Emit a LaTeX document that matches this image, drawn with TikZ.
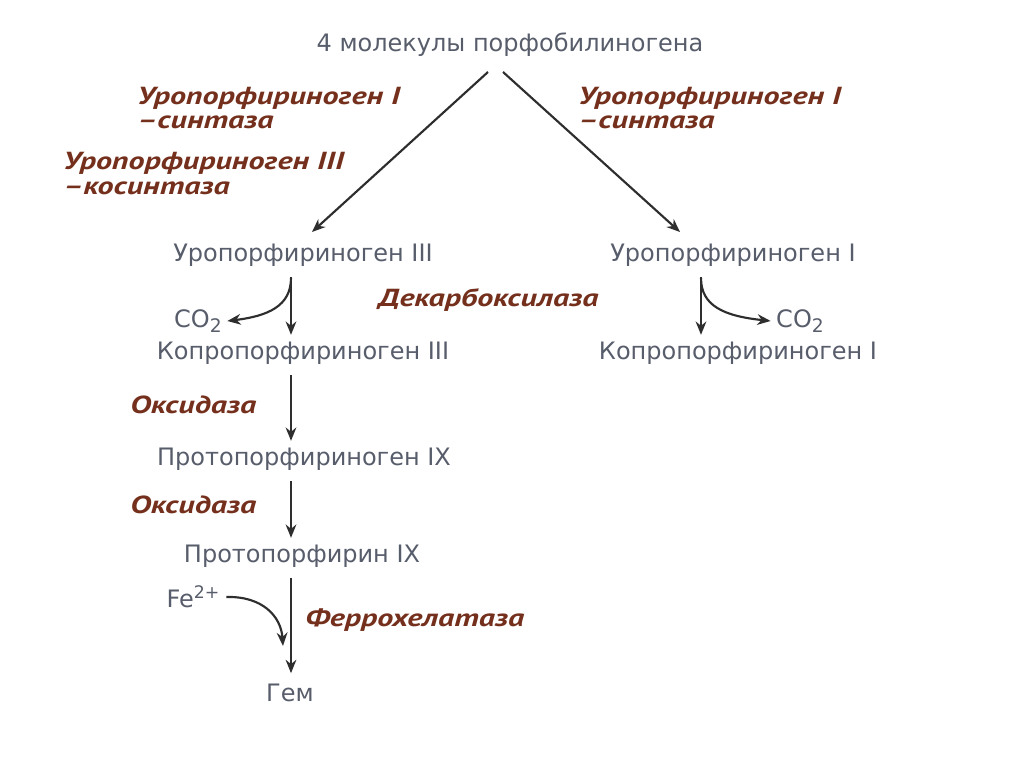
\documentclass[tikz,border=0pt]{standalone}
\usepackage{fontspec}
\setmainfont{DejaVu Sans}
\newfontfamily\enzfont[FakeStretch=1.3]{PT Sans}
\usetikzlibrary{arrows.meta}
\definecolor{txtgray}{HTML}{585D6B}
\definecolor{enzbrown}{HTML}{74301C}
\definecolor{arrgray}{HTML}{2E2E2E}
\tikzset{
  metab/.style={text=txtgray, font=\fontsize{18}{20}\selectfont, inner sep=0pt},
  enz/.style={text=enzbrown, font=\enzfont\bfseries\itshape\fontsize{18.5}{20}\selectfont, inner sep=0pt, anchor=west},
  arr/.style={draw=arrgray, line width=1.6pt, -{Stealth[length=10pt,width=8pt]}},
}
\begin{document}
\begin{tikzpicture}[x=0.75pt,y=-0.75pt]
\useasboundingbox (0,0) rectangle (1024,767);
\fill[white] (0,0) rectangle (1024,767);
% metabolites
\node[metab] (pbg) at (510,45) {4 молекулы порфобилиногена};
\node[metab] (uro3) at (303,255) {Уропорфириноген III};
\node[metab] (uro1) at (733,255) {Уропорфириноген I};
\node[metab] (copro3) at (303,353) {Копропорфириноген III};
\node[metab] (copro1) at (738,353) {Копропорфириноген I};
\node[metab] (protog) at (304,459) {Протопорфириноген IX};
\node[metab] (proto) at (302,556) {Протопорфирин IX};
\node[metab] (heme) at (290,693) {Гем};
\node[metab] (co2l) at (198,321) {CO\raisebox{-0.35ex}{\fontsize{14}{15}\selectfont 2}};
\node[metab] (co2r) at (800,321) {CO\raisebox{-0.35ex}{\fontsize{14}{15}\selectfont 2}};
\node[metab] (fe) at (193,597) {Fe\raisebox{0.7ex}{\fontsize{13}{14}\selectfont 2+}};
% enzymes
\node[enz] (e1l) at (137,98) {Уропорфириноген I};
\node[enz] (e1lb) at (137,122) {–синтаза};
\node[enz] (e3l) at (63,163) {Уропорфириноген III};
\node[enz] (e3lb) at (63,188) {–косинтаза};
\node[enz] (e1r) at (578,98) {Уропорфириноген I};
\node[enz] (e1rb) at (578,122) {–синтаза};
\node[enz] (decarb) at (378,300) {Декарбоксилаза};
\node[enz] (ox1) at (130,405) {Оксидаза};
\node[enz] (ox2) at (130,505) {Оксидаза};
\node[enz] (ferro) at (305,620) {Феррохелатаза};
% connector coordinates
\coordinate (vx) at (291,0);
\coordinate (rx) at (701,0);
\coordinate (pl) at (488,72);
\coordinate (pr) at (503,72);
\coordinate (ul) at (312,232);
\coordinate (ur) at (680,232);
% diagonal arrows
\draw[arr] (pl) -- (ul);
\draw[arr] (pr) -- (ur);
% vertical arrows
\draw[arr] ([yshift=-8pt]uro3.south -| vx) -- ([yshift=5pt]copro3.north -| vx);
\draw[arr] ([yshift=-8pt]uro1.south -| rx) -- ([yshift=5pt]copro1.north -| rx);
\draw[arr] ([yshift=-8pt]copro3.south -| vx) -- ([yshift=5pt]protog.north -| vx);
\draw[arr] ([yshift=-8pt]protog.south -| vx) -- ([yshift=5pt]proto.north -| vx);
\draw[arr] ([yshift=-8pt]proto.south -| vx) -- ([yshift=8pt]heme.north -| vx);
% side curves
\coordinate (cl0) at (291,278);
\coordinate (cr0) at (701,278);
\coordinate (fe1) at (283,646);
\draw[arr] (cl0) .. controls (291,306) and (268,316) .. ([xshift=4pt]co2l.east);
\draw[arr] (cr0) .. controls (701,306) and (724,316) .. ([xshift=-4pt]co2r.west);
\draw[arr] ([xshift=5pt]fe.east) .. controls (262,596) and (281,616) .. (fe1);
\end{tikzpicture}
\end{document}
